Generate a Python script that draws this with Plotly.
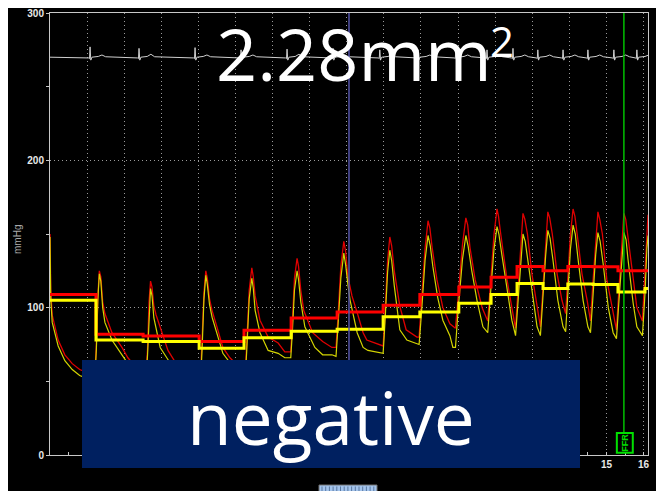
import plotly.graph_objects as go

# ---------------- data ----------------
X_END = 16.12

# aortic pressure (red) waveform: (time, mmHg)
red_wave = [
    (0.00, 150), (0.02, 112), (0.06, 95), (0.22, 78), (0.40, 68), (0.60, 62), (0.80, 58), (1.00, 56), (1.21, 55),
    (1.25, 75), (1.29, 108), (1.33, 125), (1.37, 121), (1.42, 104), (1.48, 96), (1.67, 83), (1.94, 73), (2.10, 66), (2.30, 60), (2.50, 56), (2.59, 55),
    (2.63, 72), (2.67, 104), (2.71, 118), (2.75, 114), (2.80, 101), (2.86, 95), (3.02, 83), (3.18, 71), (3.40, 62), (3.70, 57), (4.06, 54),
    (4.10, 75), (4.15, 110), (4.20, 125), (4.24, 120), (4.30, 106), (4.37, 98), (4.50, 87), (4.66, 73), (4.85, 66), (5.05, 61), (5.27, 58),
    (5.31, 78), (5.37, 112), (5.44, 127), (5.48, 121), (5.53, 108), (5.66, 91.5), (5.88, 80), (6.15, 76), (6.33, 70), (6.49, 70),
    (6.53, 88), (6.59, 120), (6.66, 133.5), (6.70, 128), (6.76, 112), (6.84, 98), (7.08, 83), (7.35, 77), (7.60, 73), (7.71, 73),
    (7.76, 92), (7.84, 128), (7.92, 145), (7.97, 138), (8.03, 121), (8.14, 108), (8.30, 95), (8.44, 83), (8.54, 78), (8.75, 76), (8.98, 74),
    (9.03, 95), (9.10, 132), (9.16, 148), (9.21, 142), (9.28, 125), (9.43, 101), (9.60, 85), (9.89, 80), (9.95, 80),
    (10.01, 100), (10.11, 140), (10.19, 159), (10.24, 154), (10.30, 141), (10.43, 119), (10.59, 100), (10.78, 89), (10.93, 86),
    (11.00, 105), (11.12, 143), (11.21, 161), (11.26, 156), (11.32, 141), (11.46, 119), (11.65, 100), (11.80, 91),
    (11.87, 115), (11.97, 150), (12.05, 167), (12.09, 162), (12.15, 150), (12.32, 119), (12.45, 100), (12.55, 86),
    (12.61, 110), (12.69, 145), (12.75, 164), (12.80, 160), (12.87, 150), (12.99, 123), (13.13, 100), (13.22, 87),
    (13.28, 110), (13.36, 145), (13.42, 165), (13.47, 161), (13.54, 150), (13.67, 123), (13.80, 105), (13.90, 96),
    (13.96, 120), (14.03, 150), (14.10, 167), (14.15, 162), (14.21, 150), (14.34, 123), (14.48, 105), (14.57, 91),
    (14.63, 115), (14.71, 148), (14.77, 165), (14.82, 160), (14.89, 150), (15.01, 119), (15.15, 100), (15.27, 85),
    (15.33, 110), (15.41, 145), (15.47, 164), (15.52, 160), (15.57, 150), (15.69, 123), (15.82, 100), (15.97, 91),
    (16.04, 125), (16.09, 158), (16.12, 163),
]

# distal pressure (yellow) waveform: (time, mmHg)
yel_wave = [
    (0.00, 148), (0.02, 106), (0.06, 90), (0.22, 74), (0.40, 64), (0.60, 58), (0.80, 54), (1.00, 52), (1.21, 52),
    (1.25, 72), (1.29, 105), (1.33, 123), (1.37, 118), (1.42, 100), (1.48, 90), (1.67, 78), (1.94, 68), (2.10, 62), (2.30, 57), (2.59, 52),
    (2.63, 68), (2.67, 98), (2.71, 113), (2.75, 108), (2.80, 93), (2.97, 73), (3.20, 64), (3.50, 57), (4.06, 51),
    (4.10, 72), (4.15, 106), (4.20, 122), (4.24, 116), (4.30, 102), (4.37, 93.5), (4.53, 80), (4.66, 69), (4.90, 61), (5.27, 55),
    (5.31, 74), (5.37, 106), (5.44, 120), (5.48, 113), (5.53, 98), (5.66, 83), (5.88, 71), (6.15, 69), (6.33, 66), (6.49, 66),
    (6.53, 82), (6.59, 112), (6.66, 125), (6.70, 119), (6.76, 104), (6.87, 87), (7.14, 73), (7.35, 68), (7.60, 68), (7.71, 67),
    (7.76, 86), (7.84, 120), (7.92, 137), (7.97, 129), (8.03, 116), (8.09, 105), (8.28, 83), (8.44, 73), (8.57, 71), (8.75, 70), (8.98, 69),
    (9.03, 90), (9.10, 124), (9.16, 139), (9.21, 132), (9.28, 115), (9.43, 85), (9.62, 78), (9.84, 76), (9.95, 75),
    (10.01, 95), (10.11, 132), (10.19, 149), (10.25, 142), (10.32, 128), (10.45, 107), (10.59, 91.5), (10.78, 81), (10.86, 73), (10.93, 73),
    (11.00, 98), (11.12, 133), (11.21, 149), (11.27, 142), (11.37, 125), (11.51, 105), (11.67, 87), (11.80, 83),
    (11.87, 108), (11.97, 140), (12.05, 155), (12.10, 150), (12.18, 136), (12.32, 112), (12.45, 91.5), (12.55, 81),
    (12.61, 102), (12.69, 133), (12.75, 150), (12.81, 145), (12.88, 132), (13.02, 105), (13.13, 87), (13.22, 81),
    (13.28, 105), (13.36, 135), (13.42, 152.5), (13.48, 147), (13.56, 132), (13.69, 105), (13.83, 87), (13.90, 83.6),
    (13.96, 110), (14.03, 140), (14.10, 156), (14.16, 150), (14.23, 134), (14.37, 105), (14.50, 87), (14.57, 83),
    (14.63, 105), (14.71, 136), (14.77, 151), (14.83, 145), (14.91, 130), (15.05, 100), (15.18, 83), (15.27, 79),
    (15.33, 102), (15.41, 134), (15.47, 151), (15.53, 146), (15.58, 133), (15.72, 103), (15.82, 87), (15.97, 81),
    (16.04, 110), (16.09, 140), (16.12, 149),
]

# beat-wise mean pressures (step lines)
step_t = [0, 1.24, 2.51, 4.02, 5.23, 6.50, 7.74, 8.98, 9.97, 11.02, 11.89,
          12.59, 13.29, 13.96, 14.64, 15.31, 16.04]
red_mean = [109, 82, 80.7, 77, 84.7, 93, 97, 101.7, 109, 114, 120.7,
            128, 125, 128, 127.7, 125, 125]
yel_mean = [105, 78, 77, 72.5, 79.5, 84, 85.4, 93.8, 97, 103, 109,
            116.4, 113, 116, 115.7, 110.7, 113]

# ECG (drawn near the top of the scale)
ecg_base = 270
ecg_r_t = [1.08, 2.40, 3.91, 5.15, 6.39, 7.63, 8.89, 9.92, 10.94, 11.78,
           12.48, 13.15, 13.83, 14.50, 15.20, 15.82]
ecg_r_amp = [7, 6, 6.5, 5, 5.5, 6, 5, 5, 5, 5, 6, 5, 5, 5, 5, 5]
ecg_t_amp = [1.5, 2, 1.5, 1.5, 2, 1.5, 1.5, 1.5, 1.5, 1.5, 1.5, 1.5, 1.5, 1.5, 1.5, 1.5]

cursor_t = 8.06      # blue cursor
ffr_t = 15.47        # green FFR marker

x_ticks = list(range(1, 17))
x_ticklabels = [''] * 14 + ['15', '16']   # 1..14 lie under the caption box
y_ticks = [0, 100, 200, 300]

# ---------------- build polylines ----------------
red_t, red_v = zip(*red_wave)
yel_t, yel_v = zip(*yel_wave)

ecg_x = [0.0]
ecg_y = [ecg_base]
for r, a, ta in zip(ecg_r_t, ecg_r_amp, ecg_t_amp):
    for dt, dv in [(-0.10, 0), (-0.04, -0.5), (-0.015, -1.0), (0, a),
                   (0.02, -2.0), (0.05, 0), (0.22, 0.5), (0.32, ta), (0.42, 0.3)]:
        ecg_x.append(r + dt)
        ecg_y.append(ecg_base + dv)
ecg_x.append(X_END)
ecg_y.append(ecg_base)

fig = go.Figure()
fig.add_trace(go.Scatter(x=ecg_x, y=ecg_y, mode='lines',
                         line=dict(color='#d0d0d0', width=1), hoverinfo='skip'))
fig.add_trace(go.Scatter(x=list(red_t), y=list(red_v), mode='lines',
                         line=dict(color='#e00000', width=1.3), hoverinfo='skip'))
fig.add_trace(go.Scatter(x=list(yel_t), y=list(yel_v), mode='lines',
                         line=dict(color='#d4d400', width=1.2), hoverinfo='skip'))
fig.add_trace(go.Scatter(x=step_t + [X_END], y=red_mean + [red_mean[-1]], mode='lines',
                         line=dict(color='#ff0000', width=3, shape='hv'), hoverinfo='skip'))
fig.add_trace(go.Scatter(x=step_t + [X_END], y=yel_mean + [yel_mean[-1]], mode='lines',
                         line=dict(color='#ffff00', width=3, shape='hv'), hoverinfo='skip'))

tickfont = dict(family='Liberation Sans', size=10, color='#e8e8e8', weight='bold')
grid_dash = '1px,3px'

# the page body has an 8px margin, so the figure starts at (8, 8)
fig.update_layout(
    template='none',
    width=656, height=483,
    margin=dict(l=42, r=16, t=5, b=36),
    paper_bgcolor='black', plot_bgcolor='black',
    showlegend=False,
    xaxis=dict(range=[0, X_END], tickvals=x_ticks, ticktext=x_ticklabels,
               tickfont=tickfont, showline=True, linecolor='#c8c8c8', linewidth=1,
               mirror=True, showgrid=True, gridcolor='#9a9a9a', griddash=grid_dash,
               gridwidth=1, zeroline=False, ticks='inside', ticklen=3,
               tickcolor='#c8c8c8', automargin=False, ticklabeloverflow='allow',
               minor=dict(dtick=0.5, tick0=0, ticks='inside', ticklen=3,
                          tickcolor='#c8c8c8', showgrid=False)),
    yaxis=dict(range=[0, 300], tickvals=y_ticks, ticktext=[str(v) for v in y_ticks],
               tickfont=tickfont, showline=True, linecolor='#c8c8c8', linewidth=1,
               mirror=True, showgrid=True, gridcolor='#9a9a9a', griddash=grid_dash,
               gridwidth=1, zeroline=False, ticks='outside', ticklen=3,
               tickcolor='#c8c8c8', automargin=False, ticklabeloverflow='allow',
               minor=dict(dtick=50, tick0=0, ticks='outside', ticklen=3,
                          tickcolor='#c8c8c8', showgrid=False)),
)

# plot-area pixel helpers (page pixels) for paper coords
PX0, PX1, PY0, PY1 = 50, 648, 455, 13
def px(xp):
    return (xp - PX0) / (PX1 - PX0)
def py(yp):
    return (PY0 - yp) / (PY0 - PY1)

shapes = [
    dict(type='line', xref='x', yref='y', x0=cursor_t, x1=cursor_t, y0=0, y1=300,
         line=dict(color='#5555a8', width=1.5), layer='above'),
    dict(type='line', xref='x', yref='y', x0=ffr_t, x1=ffr_t, y0=15, y1=300,
         line=dict(color='#00c000', width=1.5), layer='above'),
    dict(type='rect', xref='x', yref='y', x0=15.28, x1=15.71, y0=1.5, y1=15,
         line=dict(color='#00e000', width=2), fillcolor='black', layer='above'),
    dict(type='rect', xref='paper', yref='paper', x0=px(82), x1=px(580),
         y0=py(468), y1=py(360), line=dict(width=0), fillcolor='#002060', layer='above'),
    dict(type='rect', xref='paper', yref='paper', x0=px(319), x1=px(377),
         y0=py(495), y1=py(485), line=dict(color='#707070', width=1),
         fillcolor='#a4c4ec', layer='above'),
]
# stripes of the little scroll-bar thumb (decoration)
for k in range(15):
    xs = px(322 + k * 3.7)
    shapes.append(dict(type='line', xref='paper', yref='paper', x0=xs, x1=xs,
                       y0=py(491), y1=py(486.5), line=dict(color='#5a78a0', width=1),
                       layer='above'))
fig.update_layout(shapes=shapes)

fig.add_annotation(xref='paper', yref='paper', x=px(354), y=py(53),
                   text='2.28mm', showarrow=False,
                   font=dict(family='Open Sans', size=72, color='white'),
                   xanchor='center', yanchor='middle')
fig.add_annotation(xref='paper', yref='paper', x=px(502), y=py(40),
                   text='2', showarrow=False,
                   font=dict(family='Open Sans', size=42, color='white'),
                   xanchor='center', yanchor='middle')
fig.add_annotation(xref='paper', yref='paper', x=px(331), y=py(416),
                   text='negative', showarrow=False,
                   font=dict(family='Open Sans', size=73, color='white'),
                   xanchor='center', yanchor='middle')
fig.add_annotation(xref='paper', yref='paper', x=px(18), y=py(240),
                   text='mmHg', showarrow=False, textangle=-90,
                   font=dict(family='Liberation Sans', size=10, color='#a8a8a8'),
                   xanchor='center', yanchor='middle')
fig.add_annotation(xref='x', yref='y', x=15.495, y=8.2, text='FFR', showarrow=False,
                   textangle=-90, font=dict(family='Liberation Sans', size=9,
                                            color='#00e000', weight='bold'),
                   xanchor='center', yanchor='middle')

fig.write_html('out.html')
